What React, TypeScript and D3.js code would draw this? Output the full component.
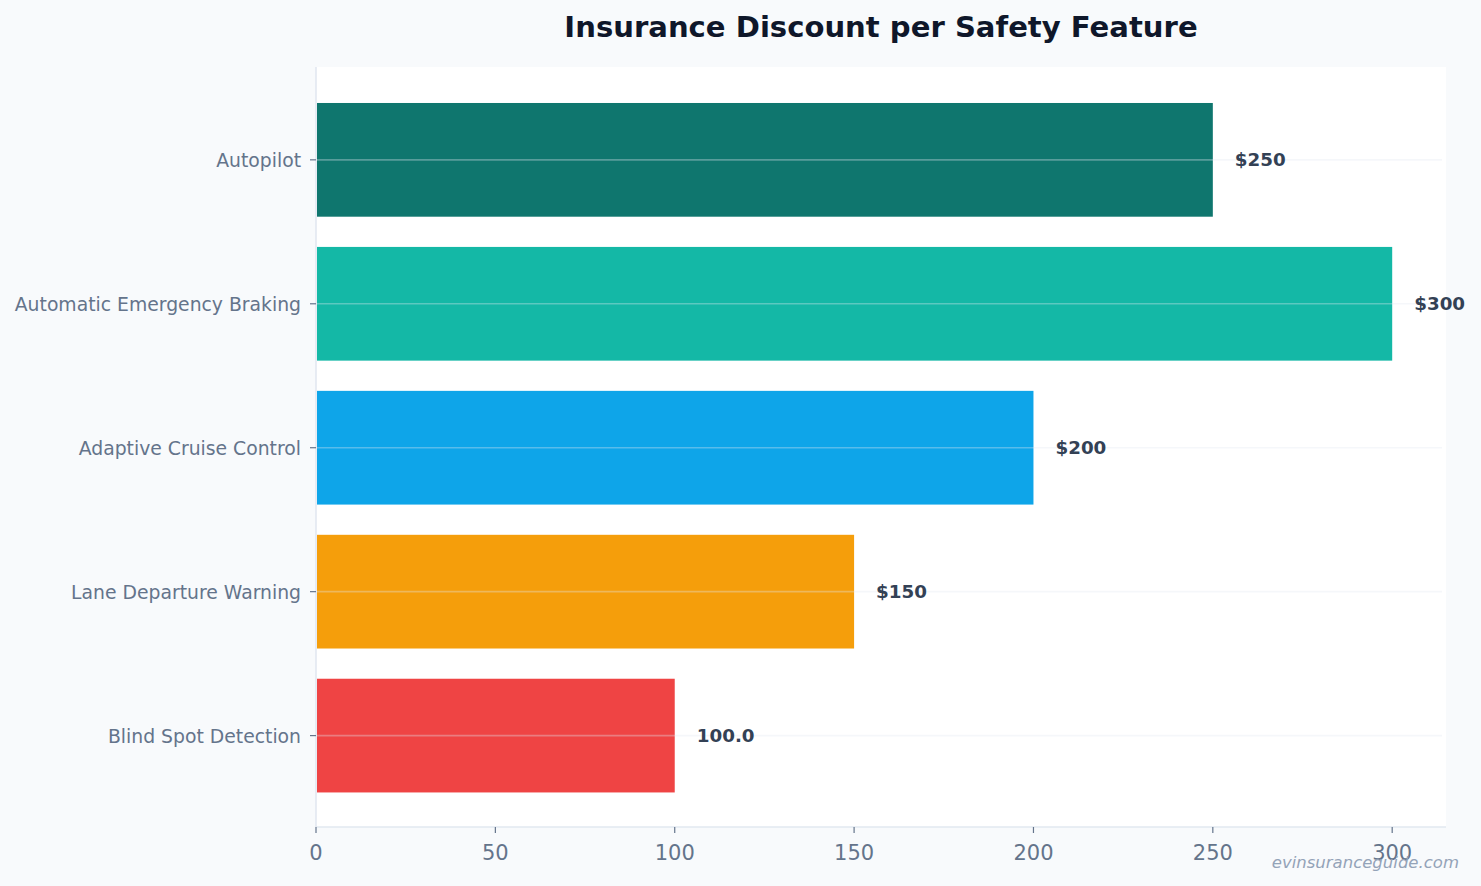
import React from "react";
import * as d3 from "d3";

const categories = [
  "Autopilot",
  "Automatic Emergency Braking",
  "Adaptive Cruise Control",
  "Lane Departure Warning",
  "Blind Spot Detection",
];
const discounts = [250, 300, 200, 150, 100];
const valueLabels = ["$250", "$300", "$200", "$150", "100.0"];
const barColors = ["#0f766e", "#14b8a6", "#0ea5e9", "#f59e0b", "#ef4444"];
const xTicks = [0, 50, 100, 150, 200, 250, 300];
const title = "Insurance Discount per Safety Feature";
const watermark = "evinsuranceguide.com";

const W = 1481;
const H = 886;
const M = { left: 316, right: 1446, top: 67, bottom: 827 };
const FONT = "'DejaVu Sans', Verdana, sans-serif";

export default function App() {
  const x = d3.scaleLinear().domain([0, 315]).range([M.left, M.right]);
  const y = d3
    .scaleLinear()
    .domain([-0.645, categories.length - 1 + 0.635])
    .range([M.top, M.bottom]);
  const barH = y(0.395) - y(0);

  return (
    <svg
      width={W}
      height={H}
      style={{ position: "absolute", left: 0, top: 0, display: "block" }}
      fontFamily={FONT}
    >
      <rect x={0} y={0} width={W} height={H} fill="#f8fafc" />
      <rect
        x={M.left}
        y={M.top}
        width={M.right - M.left}
        height={M.bottom - M.top}
        fill="#ffffff"
      />
      {/* bars */}
      {categories.map((c, i) => (
        <rect
          key={c}
          x={x(0) + 1}
          y={y(i) - barH}
          width={x(discounts[i]) - x(0) - 1}
          height={barH * 2}
          fill={barColors[i]}
        />
      ))}
      {/* horizontal grid */}
      {categories.map((c, i) => (
        <line
          key={"g" + c}
          x1={M.left}
          x2={M.right - 4}
          y1={y(i)}
          y2={y(i)}
          stroke="#e2e8f0"
          strokeOpacity={0.35}
          strokeWidth={1.6}
        />
      ))}
      {/* spines */}
      <line x1={M.left} x2={M.left} y1={M.top} y2={M.bottom} stroke="#e2e8f0" strokeWidth={1.6} />
      <line x1={M.left} x2={M.right} y1={M.bottom} y2={M.bottom} stroke="#e2e8f0" strokeWidth={1.6} />
      {/* y ticks & labels */}
      {categories.map((c, i) => (
        <g key={"y" + c}>
          <line x1={M.left - 6} x2={M.left} y1={y(i)} y2={y(i)} stroke="#64748b" strokeWidth={1.2} />
          <text
            x={M.left - 15}
            y={y(i) + 1}
            dy="0.35em"
            textAnchor="end"
            fontSize={18.8}
            fill="#64748b"
          >
            {c}
          </text>
        </g>
      ))}
      {/* x ticks & labels */}
      {xTicks.map((t) => (
        <g key={"x" + t}>
          <line x1={x(t)} x2={x(t)} y1={M.bottom} y2={M.bottom + 6} stroke="#64748b" strokeWidth={1.2} />
          <text
            x={x(t)}
            y={M.bottom + 33}
            textAnchor="middle"
            fontSize={21}
            fill="#64748b"
          >
            {t}
          </text>
        </g>
      ))}
      {/* value labels */}
      {categories.map((c, i) => (
        <text
          key={"v" + c}
          x={x(discounts[i]) + 22}
          y={y(i)}
          dy="0.35em"
          fontSize={18.3}
          fontWeight="bold"
          fill="#334155"
        >
          {valueLabels[i]}
        </text>
      ))}
      {/* title */}
      <text
        x={(M.left + M.right) / 2}
        y={37}
        textAnchor="middle"
        fontSize={29.1}
        fontWeight="bold"
        fill="#0f172a"
      >
        {title}
      </text>
      {/* watermark */}
      <text
        x={1459}
        y={868}
        textAnchor="end"
        fontSize={16.5}
        fontStyle="italic"
        fill="#94a3b8"
      >
        {watermark}
      </text>
    </svg>
  );
}
